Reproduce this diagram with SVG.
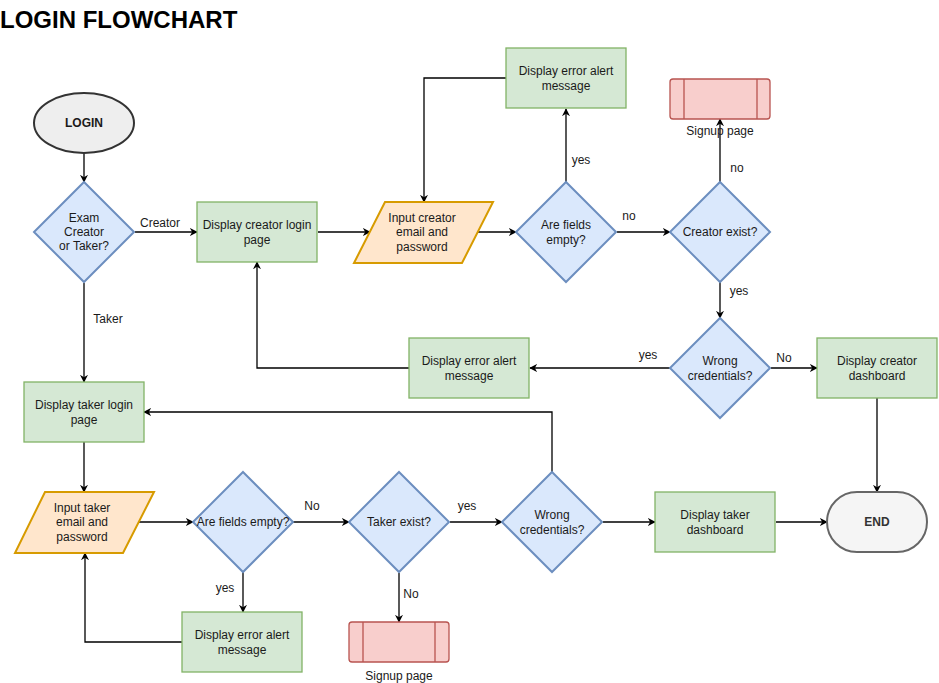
<svg xmlns="http://www.w3.org/2000/svg" width="939" height="683" viewBox="0 0 939 683">
<style>
text{font-family:"Liberation Sans",Arial,sans-serif;font-size:12px;fill:#1a1a1a;text-anchor:middle}
.title{font-size:24px;font-weight:bold;text-anchor:start;fill:#000}
.lbl{fill:#1a1a1a}
.green{fill:#d5e8d4;stroke:#82b366;stroke-width:1.3}
.blue{fill:#dae8fc;stroke:#6c8ebf;stroke-width:2}
.orange{fill:#ffe6cc;stroke:#d79b00;stroke-width:2}
.red{fill:#f8cecc;stroke:#b85450;stroke-width:1.3}
.term{stroke-width:2}
.c{fill:none;stroke:#000;stroke-width:1.3}
.b{font-weight:bold}
</style>
<defs>
<marker id="ar" viewBox="0 0 10 10" refX="9" refY="5" markerWidth="8" markerHeight="8" markerUnits="userSpaceOnUse" orient="auto">
<path d="M0,0 L10,5 L0,10 L3,5 z" fill="#000"/>
</marker>
</defs>
<rect width="939" height="683" fill="#fff"/>
<text class="title" x="0" y="28">LOGIN FLOWCHART</text>

<g id="connectors">
<path class="c" d="M84,153 V182" marker-end="url(#ar)"/>
<path class="c" d="M135,232 H197" marker-end="url(#ar)"/>
<path class="c" d="M318,232 H370" marker-end="url(#ar)"/>
<path class="c" d="M478,232 H516" marker-end="url(#ar)"/>
<path class="c" d="M566,182 V109" marker-end="url(#ar)"/>
<path class="c" d="M506,78 H424 V202" marker-end="url(#ar)"/>
<path class="c" d="M617,232 H670" marker-end="url(#ar)"/>
<path class="c" d="M720,182 V119" marker-end="url(#ar)"/>
<path class="c" d="M720,282 V318" marker-end="url(#ar)"/>
<path class="c" d="M771,368 H817" marker-end="url(#ar)"/>
<path class="c" d="M670,368 H530" marker-end="url(#ar)"/>
<path class="c" d="M409,368 H257 V262" marker-end="url(#ar)"/>
<path class="c" d="M877,398 V492" marker-end="url(#ar)"/>
<path class="c" d="M84,283 V382" marker-end="url(#ar)"/>
<path class="c" d="M84,442 V492" marker-end="url(#ar)"/>
<path class="c" d="M139,522 H193" marker-end="url(#ar)"/>
<path class="c" d="M293,522 H349" marker-end="url(#ar)"/>
<path class="c" d="M399,573 V622" marker-end="url(#ar)"/>
<path class="c" d="M450,522 H502" marker-end="url(#ar)"/>
<path class="c" d="M552,472 V412 H144" marker-end="url(#ar)"/>
<path class="c" d="M603,522 H655" marker-end="url(#ar)"/>
<path class="c" d="M776,522 H827" marker-end="url(#ar)"/>
<path class="c" d="M243,572 V612" marker-end="url(#ar)"/>
<path class="c" d="M182,642 H85 V553" marker-end="url(#ar)"/>
<text class="lbl" x="160" y="227">Creator</text>
<text class="lbl" x="581" y="164">yes</text>
<text class="lbl" x="629" y="220">no</text>
<text class="lbl" x="737" y="172">no</text>
<text class="lbl" x="739" y="295">yes</text>
<text class="lbl" x="784" y="362">No</text>
<text class="lbl" x="648" y="359">yes</text>
<text class="lbl" x="108" y="323">Taker</text>
<text class="lbl" x="312" y="510">No</text>
<text class="lbl" x="411" y="598">No</text>
<text class="lbl" x="467" y="510">yes</text>
<text class="lbl" x="225" y="592">yes</text>
</g>

<g id="login">
<ellipse cx="84" cy="123" rx="50" ry="30" fill="#eeeeee" stroke="#333" class="term"/>
<text class="b" x="84" y="127">LOGIN</text>
</g>
<g id="exam-creator-or-taker">
<polygon class="blue" points="84,182 134,232 84,282 34,232"/>
<text x="84" y="222">Exam</text><text x="84" y="236">Creator</text><text x="84" y="250">or Taker?</text>
</g>
<g id="creator-login-page">
<rect class="green" x="197" y="202" width="120" height="60"/>
<text x="257" y="229">Display creator login</text><text x="257" y="244">page</text>
</g>
<g id="input-creator">
<polygon class="orange" points="385,202 493,202 462,263 354,263"/>
<text x="422" y="222">Input creator</text><text x="422" y="236">email and</text><text x="422" y="251">password</text>
</g>
<g id="creator-fields-empty">
<polygon class="blue" points="566,182 616,232 566,282 516,232"/>
<text x="566" y="229">Are fields</text><text x="566" y="244">empty?</text>
</g>
<g id="creator-error-1">
<rect class="green" x="506" y="48" width="120" height="60"/>
<text x="566" y="75">Display error alert</text><text x="566" y="90">message</text>
</g>
<g id="creator-exist">
<polygon class="blue" points="720,182 770,232 720,282 670,232"/>
<text x="720" y="236">Creator exist?</text>
</g>
<g id="creator-signup">
<rect class="red" x="670" y="79" width="100" height="40" rx="3"/>
<path class="red" d="M684,79 V119 M757,79 V119" fill="none"/>
<text x="720" y="135">Signup page</text>
</g>
<g id="creator-wrong-credentials">
<polygon class="blue" points="720,318 770,368 720,418 670,368"/>
<text x="720" y="365">Wrong</text><text x="720" y="380">credentials?</text>
</g>
<g id="creator-dashboard">
<rect class="green" x="817" y="338" width="120" height="60"/>
<text x="877" y="365">Display creator</text><text x="877" y="380">dashboard</text>
</g>
<g id="creator-error-2">
<rect class="green" x="409" y="338" width="120" height="60"/>
<text x="469" y="365">Display error alert</text><text x="469" y="380">message</text>
</g>
<g id="end">
<rect x="827" y="492" width="100" height="60" rx="30" fill="#f5f5f5" stroke="#666" class="term"/>
<text class="b" x="877" y="526" style="fill:#333">END</text>
</g>
<g id="taker-login-page">
<rect class="green" x="24" y="382" width="120" height="60"/>
<text x="84" y="409">Display taker login</text><text x="84" y="424">page</text>
</g>
<g id="input-taker">
<polygon class="orange" points="45,492 154,492 123,553 15,553"/>
<text x="82" y="512">Input taker</text><text x="82" y="526">email and</text><text x="82" y="541">password</text>
</g>
<g id="taker-fields-empty">
<polygon class="blue" points="243,472 293,522 243,572 193,522"/>
<text x="243" y="526">Are fields empty?</text>
</g>
<g id="taker-error">
<rect class="green" x="182" y="612" width="120" height="60"/>
<text x="242" y="639">Display error alert</text><text x="242" y="654">message</text>
</g>
<g id="taker-exist">
<polygon class="blue" points="399,472 449,522 399,572 349,522"/>
<text x="399" y="526">Taker exist?</text>
</g>
<g id="taker-signup">
<rect class="red" x="349" y="622" width="100" height="40" rx="3"/>
<path class="red" d="M363,622 V662 M435,622 V662" fill="none"/>
<text x="399" y="680">Signup page</text>
</g>
<g id="taker-wrong-credentials">
<polygon class="blue" points="552,472 602,522 552,572 502,522"/>
<text x="552" y="519">Wrong</text><text x="552" y="534">credentials?</text>
</g>
<g id="taker-dashboard">
<rect class="green" x="655" y="492" width="120" height="60"/>
<text x="715" y="519">Display taker</text><text x="715" y="534">dashboard</text>
</g>
</svg>
